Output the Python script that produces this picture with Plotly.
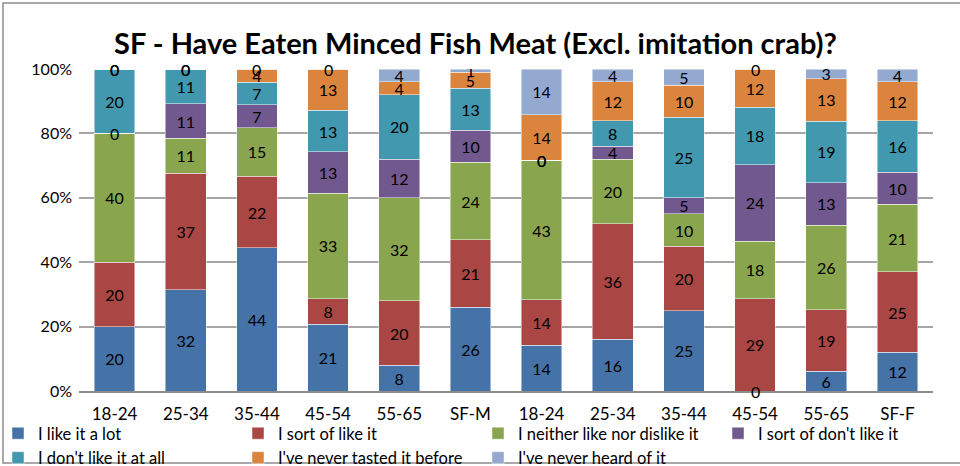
import plotly.graph_objects as go

categories = ["18-24", "25-34", "35-44", "45-54", "55-65", "SF-M",
              "18-24", "25-34", "35-44", "45-54", "55-65", "SF-F"]

series_names = ["I like it a lot", "I sort of like it", "I neither like nor dislike it",
                "I sort of don't like it", "I don't like it at all",
                "I've never tasted it before", "I've never heard of it"]

like_lot      = [20, 32, 44, 21, 8, 26, 14, 16, 25, 0, 6, 12]
sort_like     = [20, 37, 22, 8, 20, 21, 14, 36, 20, 29, 19, 25]
neither       = [40, 11, 15, 33, 32, 24, 43, 20, 10, 18, 26, 21]
sort_dislike  = [0, 11, 7, 13, 12, 10, 0, 4, 5, 24, 13, 10]
dislike_all   = [20, 11, 7, 13, 20, 13, 0, 8, 25, 18, 19, 16]
never_tasted  = [0, 0, 4, 13, 4, 5, 14, 12, 10, 12, 13, 12]
never_heard   = [0, 0, 0, 0, 4, 1, 14, 4, 5, 0, 3, 4]

y_tick_vals = [0, 20, 40, 60, 80, 100]
y_tick_text = ["0%", "20%", "40%", "60%", "80%", "100%"]

series_values = [like_lot, sort_like, neither, sort_dislike, dislike_all, never_tasted, never_heard]
colors = ["#4572A7", "#AA4643", "#89A54E", "#71588F", "#4198AF", "#DB843D", "#93A9CF"]
# Excel lays the legend out in 4 columns: one vertical legend per column
legend_ids = ["legend", "legend2", "legend3", "legend4", "legend", "legend2", "legend3"]

FONT = "Lato"
LABEL_SIZE = 16
xpos = list(range(len(categories)))

fig = go.Figure()
for name, vals, col, lg in zip(series_names, series_values, colors, legend_ids):
    fig.add_trace(go.Bar(
        x=xpos, y=vals, name=name, legend=lg,
        marker=dict(color=col, line=dict(color="rgba(255,255,255,0.6)", width=0.8)),
        text=[str(v) for v in vals], texttemplate="%{text}",
        textposition="inside", insidetextanchor="middle",
        textfont=dict(color="black", size=LABEL_SIZE, family=FONT),
        textangle=0, constraintext="none",
    ))

# zero-valued segments: Excel still prints "0" at the segment boundary
totals = [sum(s[j] for s in series_values) for j in xpos]
for j in xpos:
    cum = 0
    for s in series_values:
        cum += s[j]
        if s[j] == 0:
            fig.add_annotation(x=j, y=cum / totals[j] * 100, text="0", showarrow=False,
                               xref="x", yref="y", yanchor="middle",
                               font=dict(size=LABEL_SIZE, family=FONT, color="black"))

PW, PH, ML, MB = 854, 322, 79, 75
LEG_TOP = 416
leg_common = dict(orientation="v", xref="paper", yref="paper",
                  xanchor="left", yanchor="top", y=-(LEG_TOP - 391) / PH,
                  font=dict(size=16.5, family=FONT), traceorder="normal",
                  itemwidth=30, tracegroupgap=0, bgcolor="rgba(0,0,0,0)")

fig.update_layout(
    barmode="stack", barnorm="percent", bargap=0.43,
    width=960, height=466,
    margin=dict(l=ML, r=27, t=69, b=MB, autoexpand=False),
    paper_bgcolor="white", plot_bgcolor="white",
    font=dict(family=FONT, size=16, color="black"),
    title=dict(text="<b>SF - Have Eaten Minced Fish Meat (Excl. imitation crab)?</b>",
               x=0.4953, xanchor="center", xref="container",
               y=0.906, yanchor="middle", yref="container",
               font=dict(size=29, family=FONT, color="black")),
    uniformtext=dict(mode="show", minsize=LABEL_SIZE),
    legend=dict(x=(-2 - ML) / PW, **leg_common),
    legend2=dict(x=(238 - ML) / PW, **leg_common),
    legend3=dict(x=(478 - ML) / PW, **leg_common),
    legend4=dict(x=(718 - ML) / PW, **leg_common),
    showlegend=True,
)
fig.update_xaxes(tickmode="array", tickvals=xpos, ticktext=categories,
                 range=[-0.5, len(categories) - 0.5], showgrid=False,
                 showline=True, linecolor="#8c8c8c", linewidth=2, automargin=False,
                 ticks="", ticklabelstandoff=7, tickfont=dict(size=17, family=FONT))
fig.update_yaxes(range=[0, 100], tickmode="array", tickvals=y_tick_vals, ticktext=y_tick_text,
                 showgrid=True, gridcolor="#a6a6a6", gridwidth=1.5, automargin=False,
                 zeroline=False, showline=False, ticks="", ticklabelstandoff=6,
                 tickfont=dict(size=16, family=FONT))
fig.add_shape(type="rect", xref="paper", yref="paper",
              x0=-76 / PW, x1=1.2, y0=-72 / PH, y1=1 + 66 / PH,
              line=dict(color="#8c8c8c", width=1.5), fillcolor="rgba(0,0,0,0)", layer="below")

fig.write_html("out.html", config={"displayModeBar": False},
               post_script="document.body.style.margin='0px';document.body.style.padding='0px';")
